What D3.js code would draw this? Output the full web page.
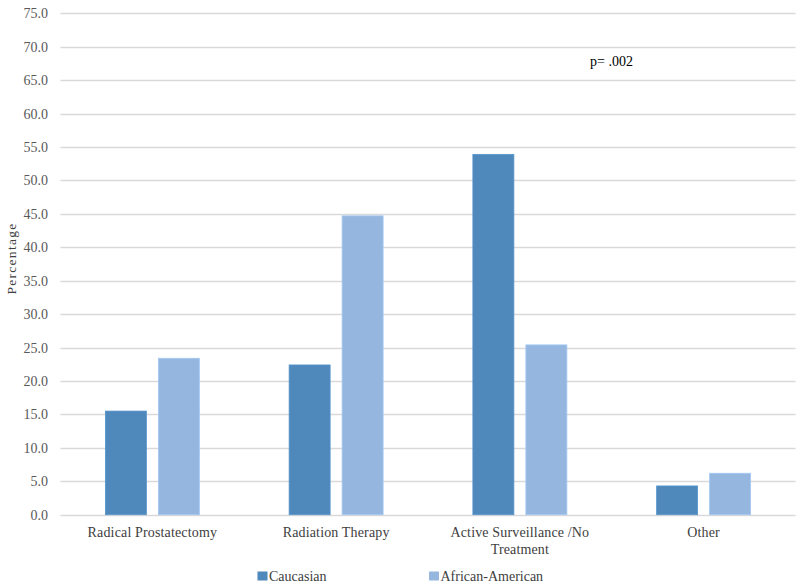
<!DOCTYPE html>
<html><head><meta charset="utf-8">
<script src="https://cdn.jsdelivr.net/npm/d3@7"></script>
<style>body{margin:0;background:#fff}svg{display:block}svg text{font-family:"Liberation Serif","Times New Roman",serif !important}</style>
</head><body><svg id="c" width="800" height="586"></svg>
<script>
const categories = [["Radical Prostatectomy"], ["Radiation Therapy"], ["Active Surveillance /No", "Treatment"], ["Other"]];
const seriesNames = ["Caucasian", "African-American"];
const caucasian = [15.5, 22.4, 53.9, 4.3];
const africanAmerican = [23.4, 44.7, 25.4, 6.2];
const yTicks = [0,5,10,15,20,25,30,35,40,45,50,55,60,65,70,75];
const colors = ["#4F88BB", "#95B7DF"];
const annotation = "p= .002";

(function(){
const svg = d3.select("#c");
const pL = 60.5, pR = 795.5, pT = 13.3, pB = 514.7;
const catKeys = categories.map((c,i)=>i);
const x0 = d3.scaleBand().domain(catKeys).range([pL, pR]).padding(0);
const x1 = d3.scaleBand().domain(seriesNames).range([0, x0.bandwidth()]).paddingInner(0.2264).paddingOuter(0.847);
const y = d3.scaleLinear().domain([0,75]).range([pB, pT]);

// gridlines
svg.append("g").selectAll("line").data(yTicks).join("line")
  .attr("x1", pL).attr("x2", pR)
  .attr("y1", d=>Math.round(y(d))+0.5).attr("y2", d=>Math.round(y(d))+0.5)
  .attr("stroke", "#D9D9D9").attr("stroke-width", 1.3);

// y axis labels
const yAxis = d3.axisLeft(y).tickValues(yTicks).tickFormat(d3.format(".1f")).tickSize(0).tickPadding(0);
const ga = svg.append("g").attr("transform", `translate(48,0)`).call(yAxis);
ga.attr("font-family", null).attr("font-size", null);
ga.select(".domain").remove();
ga.selectAll("text").attr("font-size", 14).attr("fill", "#595959");

// bars
const data = [caucasian, africanAmerican];
const g = svg.append("g");
seriesNames.forEach((s, si) => {
  g.append("g").selectAll("rect").data(data[si]).join("rect")
    .attr("x", (d,i)=>x0(i)+x1(s))
    .attr("width", x1.bandwidth())
    .attr("y", d=>y(d))
    .attr("height", d=>y(0)-y(d))
    .attr("fill", colors[si])
    .attr("stroke", d3.color(colors[si]).brighter(0.25))
    .attr("stroke-width", 0.8);
});

// category labels
const cl = svg.append("g");
categories.forEach((lines, i) => {
  const t = cl.append("text").attr("x", x0(i)+x0.bandwidth()/2).attr("y", 537)
    .attr("text-anchor","middle").attr("font-size",14).attr("fill","#404040")
    .attr("letter-spacing", 0.15);
  lines.forEach((ln, j) => t.append("tspan").attr("x", x0(i)+x0.bandwidth()/2).attr("dy", j===0?0:17).text(ln));
});

// y title
svg.append("text").attr("transform", "translate(16,258.5) rotate(-90)")
  .attr("text-anchor","middle").attr("font-size",13.5).attr("fill","#404040")
  .attr("letter-spacing", 1.3).text("Percentage");

// annotation
svg.append("text").attr("x", 590).attr("y", 65.5).attr("font-size", 14).attr("fill","#000").text(annotation);

// legend
const legX = [257.5, 429];
seriesNames.forEach((s, si) => {
  svg.append("rect").attr("x", legX[si]).attr("y", 571.5).attr("width", 10).attr("height", 9).attr("fill", colors[si]);
  svg.append("text").attr("x", legX[si]+11.5).attr("y", 581).attr("font-size", 14).attr("fill","#404040").text(s);
});
})();
</script></body></html>
